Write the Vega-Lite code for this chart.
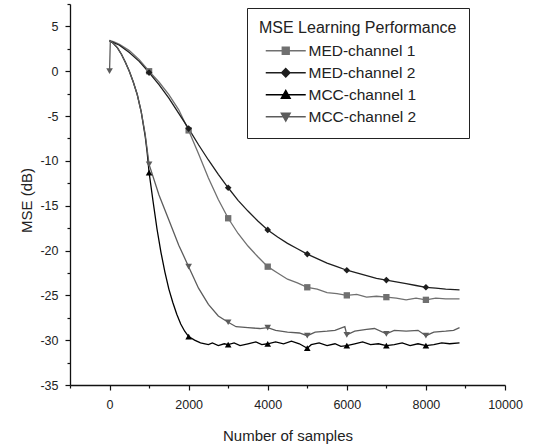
{
  "$schema": "https://vega.github.io/schema/vega-lite/v6.json",
  "width": 435,
  "height": 381,
  "autosize": {"type": "none"},
  "padding": {"left": 70, "top": 4, "right": 34, "bottom": 60},
  "background": "white",
  "config": {"view": {"stroke": null}, "font": "Liberation Sans"},
  "data": {"values": [
    {"s":"MED-channel 1","x":0,"y":3.4},{"s":"MED-channel 1","x":100,"y":3.3},{"s":"MED-channel 1","x":250,"y":3.0},{"s":"MED-channel 1","x":500,"y":2.3},{"s":"MED-channel 1","x":750,"y":1.3},{"s":"MED-channel 1","x":1000,"y":0.0},{"s":"MED-channel 1","x":1250,"y":-1.2},{"s":"MED-channel 1","x":1500,"y":-2.6},{"s":"MED-channel 1","x":1750,"y":-4.3},{"s":"MED-channel 1","x":2000,"y":-6.6},{"s":"MED-channel 1","x":2250,"y":-9.2},{"s":"MED-channel 1","x":2500,"y":-11.9},{"s":"MED-channel 1","x":2750,"y":-14.3},{"s":"MED-channel 1","x":3000,"y":-16.4},{"s":"MED-channel 1","x":3250,"y":-18.1},{"s":"MED-channel 1","x":3500,"y":-19.5},{"s":"MED-channel 1","x":3750,"y":-20.7},{"s":"MED-channel 1","x":4000,"y":-21.8},{"s":"MED-channel 1","x":4250,"y":-22.5},{"s":"MED-channel 1","x":4500,"y":-23.2},{"s":"MED-channel 1","x":4750,"y":-23.6},{"s":"MED-channel 1","x":5000,"y":-24.1},{"s":"MED-channel 1","x":5250,"y":-24.3},{"s":"MED-channel 1","x":5500,"y":-24.7},{"s":"MED-channel 1","x":5750,"y":-24.8},{"s":"MED-channel 1","x":6000,"y":-25.0},{"s":"MED-channel 1","x":6250,"y":-24.9},{"s":"MED-channel 1","x":6500,"y":-25.2},{"s":"MED-channel 1","x":6750,"y":-25.1},{"s":"MED-channel 1","x":7000,"y":-25.2},{"s":"MED-channel 1","x":7250,"y":-25.3},{"s":"MED-channel 1","x":7500,"y":-25.5},{"s":"MED-channel 1","x":7750,"y":-25.3},{"s":"MED-channel 1","x":8000,"y":-25.5},{"s":"MED-channel 1","x":8250,"y":-25.3},{"s":"MED-channel 1","x":8500,"y":-25.4},{"s":"MED-channel 1","x":8850,"y":-25.4},
    {"s":"MED-channel 2","x":0,"y":3.4},{"s":"MED-channel 2","x":250,"y":2.9},{"s":"MED-channel 2","x":500,"y":2.1},{"s":"MED-channel 2","x":750,"y":1.1},{"s":"MED-channel 2","x":1000,"y":-0.15},{"s":"MED-channel 2","x":1250,"y":-1.5},{"s":"MED-channel 2","x":1500,"y":-3.0},{"s":"MED-channel 2","x":1750,"y":-4.7},{"s":"MED-channel 2","x":2000,"y":-6.4},{"s":"MED-channel 2","x":2250,"y":-8.2},{"s":"MED-channel 2","x":2500,"y":-9.9},{"s":"MED-channel 2","x":2750,"y":-11.5},{"s":"MED-channel 2","x":3000,"y":-13.0},{"s":"MED-channel 2","x":3250,"y":-14.4},{"s":"MED-channel 2","x":3500,"y":-15.6},{"s":"MED-channel 2","x":3750,"y":-16.7},{"s":"MED-channel 2","x":4000,"y":-17.7},{"s":"MED-channel 2","x":4250,"y":-18.5},{"s":"MED-channel 2","x":4500,"y":-19.2},{"s":"MED-channel 2","x":4750,"y":-19.8},{"s":"MED-channel 2","x":5000,"y":-20.4},{"s":"MED-channel 2","x":5250,"y":-20.9},{"s":"MED-channel 2","x":5500,"y":-21.4},{"s":"MED-channel 2","x":5750,"y":-21.8},{"s":"MED-channel 2","x":6000,"y":-22.2},{"s":"MED-channel 2","x":6250,"y":-22.5},{"s":"MED-channel 2","x":6500,"y":-22.8},{"s":"MED-channel 2","x":6750,"y":-23.1},{"s":"MED-channel 2","x":7000,"y":-23.3},{"s":"MED-channel 2","x":7250,"y":-23.5},{"s":"MED-channel 2","x":7500,"y":-23.7},{"s":"MED-channel 2","x":7750,"y":-23.9},{"s":"MED-channel 2","x":8000,"y":-24.1},{"s":"MED-channel 2","x":8250,"y":-24.2},{"s":"MED-channel 2","x":8500,"y":-24.3},{"s":"MED-channel 2","x":8850,"y":-24.4},
    {"s":"MCC-channel 1","x":0,"y":3.4},{"s":"MCC-channel 1","x":100,"y":3.1},{"s":"MCC-channel 1","x":200,"y":2.6},{"s":"MCC-channel 1","x":300,"y":1.9},{"s":"MCC-channel 1","x":400,"y":1.0},{"s":"MCC-channel 1","x":500,"y":0.0},{"s":"MCC-channel 1","x":600,"y":-1.2},{"s":"MCC-channel 1","x":700,"y":-2.6},{"s":"MCC-channel 1","x":800,"y":-4.5},{"s":"MCC-channel 1","x":900,"y":-7.2},{"s":"MCC-channel 1","x":950,"y":-9.0},{"s":"MCC-channel 1","x":1000,"y":-11.3},{"s":"MCC-channel 1","x":1100,"y":-14.5},{"s":"MCC-channel 1","x":1200,"y":-17.6},{"s":"MCC-channel 1","x":1300,"y":-20.2},{"s":"MCC-channel 1","x":1400,"y":-22.4},{"s":"MCC-channel 1","x":1500,"y":-24.3},{"s":"MCC-channel 1","x":1600,"y":-25.8},{"s":"MCC-channel 1","x":1700,"y":-27.1},{"s":"MCC-channel 1","x":1800,"y":-28.2},{"s":"MCC-channel 1","x":1900,"y":-29.0},{"s":"MCC-channel 1","x":2000,"y":-29.6},{"s":"MCC-channel 1","x":2150,"y":-30.0},{"s":"MCC-channel 1","x":2300,"y":-30.3},{"s":"MCC-channel 1","x":2500,"y":-30.5},{"s":"MCC-channel 1","x":2600,"y":-30.3},{"s":"MCC-channel 1","x":2750,"y":-30.6},{"s":"MCC-channel 1","x":2900,"y":-30.4},{"s":"MCC-channel 1","x":3000,"y":-30.5},{"s":"MCC-channel 1","x":3150,"y":-30.3},{"s":"MCC-channel 1","x":3300,"y":-30.6},{"s":"MCC-channel 1","x":3500,"y":-30.4},{"s":"MCC-channel 1","x":3700,"y":-30.2},{"s":"MCC-channel 1","x":3850,"y":-30.5},{"s":"MCC-channel 1","x":4000,"y":-30.4},{"s":"MCC-channel 1","x":4200,"y":-30.2},{"s":"MCC-channel 1","x":4400,"y":-30.4},{"s":"MCC-channel 1","x":4600,"y":-30.1},{"s":"MCC-channel 1","x":4800,"y":-30.4},{"s":"MCC-channel 1","x":5000,"y":-30.9},{"s":"MCC-channel 1","x":5100,"y":-30.5},{"s":"MCC-channel 1","x":5300,"y":-30.3},{"s":"MCC-channel 1","x":5500,"y":-30.6},{"s":"MCC-channel 1","x":5700,"y":-30.4},{"s":"MCC-channel 1","x":5850,"y":-30.7},{"s":"MCC-channel 1","x":6000,"y":-30.6},{"s":"MCC-channel 1","x":6200,"y":-30.4},{"s":"MCC-channel 1","x":6400,"y":-30.2},{"s":"MCC-channel 1","x":6600,"y":-30.5},{"s":"MCC-channel 1","x":6800,"y":-30.4},{"s":"MCC-channel 1","x":7000,"y":-30.6},{"s":"MCC-channel 1","x":7200,"y":-30.5},{"s":"MCC-channel 1","x":7400,"y":-30.3},{"s":"MCC-channel 1","x":7600,"y":-30.6},{"s":"MCC-channel 1","x":7800,"y":-30.4},{"s":"MCC-channel 1","x":8000,"y":-30.6},{"s":"MCC-channel 1","x":8200,"y":-30.5},{"s":"MCC-channel 1","x":8400,"y":-30.3},{"s":"MCC-channel 1","x":8600,"y":-30.4},{"s":"MCC-channel 1","x":8850,"y":-30.3},
    {"s":"MCC-channel 2","x":0,"y":0.0},{"s":"MCC-channel 2","x":20,"y":3.4},{"s":"MCC-channel 2","x":100,"y":3.1},{"s":"MCC-channel 2","x":200,"y":2.6},{"s":"MCC-channel 2","x":300,"y":1.9},{"s":"MCC-channel 2","x":400,"y":1.0},{"s":"MCC-channel 2","x":500,"y":0.0},{"s":"MCC-channel 2","x":600,"y":-1.2},{"s":"MCC-channel 2","x":700,"y":-2.6},{"s":"MCC-channel 2","x":800,"y":-4.5},{"s":"MCC-channel 2","x":900,"y":-7.0},{"s":"MCC-channel 2","x":1000,"y":-10.4},{"s":"MCC-channel 2","x":1250,"y":-13.8},{"s":"MCC-channel 2","x":1500,"y":-16.6},{"s":"MCC-channel 2","x":1750,"y":-19.4},{"s":"MCC-channel 2","x":2000,"y":-21.8},{"s":"MCC-channel 2","x":2250,"y":-24.2},{"s":"MCC-channel 2","x":2500,"y":-26.0},{"s":"MCC-channel 2","x":2750,"y":-27.3},{"s":"MCC-channel 2","x":3000,"y":-28.0},{"s":"MCC-channel 2","x":3200,"y":-28.5},{"s":"MCC-channel 2","x":3500,"y":-28.6},{"s":"MCC-channel 2","x":3800,"y":-28.7},{"s":"MCC-channel 2","x":4000,"y":-28.6},{"s":"MCC-channel 2","x":4200,"y":-28.9},{"s":"MCC-channel 2","x":4500,"y":-29.1},{"s":"MCC-channel 2","x":4800,"y":-29.2},{"s":"MCC-channel 2","x":5000,"y":-29.5},{"s":"MCC-channel 2","x":5200,"y":-29.1},{"s":"MCC-channel 2","x":5500,"y":-29.0},{"s":"MCC-channel 2","x":5700,"y":-28.9},{"s":"MCC-channel 2","x":5950,"y":-28.5},{"s":"MCC-channel 2","x":6000,"y":-29.4},{"s":"MCC-channel 2","x":6200,"y":-29.0},{"s":"MCC-channel 2","x":6500,"y":-28.8},{"s":"MCC-channel 2","x":6700,"y":-28.7},{"s":"MCC-channel 2","x":7000,"y":-29.3},{"s":"MCC-channel 2","x":7200,"y":-28.9},{"s":"MCC-channel 2","x":7500,"y":-29.0},{"s":"MCC-channel 2","x":7800,"y":-28.9},{"s":"MCC-channel 2","x":8000,"y":-29.5},{"s":"MCC-channel 2","x":8200,"y":-29.1},{"s":"MCC-channel 2","x":8500,"y":-29.0},{"s":"MCC-channel 2","x":8700,"y":-28.9},{"s":"MCC-channel 2","x":8850,"y":-28.6}
  ]},
  "encoding": {
    "x": {"field": "x", "type": "quantitative",
      "scale": {"domain": [-1000, 10000], "nice": false, "zero": false},
      "axis": {"title": "Number of samples",
        "values": [-1000,0,1000,2000,3000,4000,5000,6000,7000,8000,9000,10000],
        "labelExpr": "datum.value % 2000 === 0 ? '' + datum.value : ''",
        "tickSize": {"condition": {"test": "datum.value % 2000 !== 0", "value": 3}, "value": 5},
        "grid": false, "labelFlush": false, "labelOverlap": false,
        "labelFontSize": 12.5, "labelPadding": 8, "labelColor": "#222",
        "titleFontSize": 15, "titleFontWeight": "normal", "titleColor": "#222", "titlePadding": 18,
        "domainColor": "#111", "domainWidth": 1.3, "tickColor": "#111", "tickWidth": 1.2}},
    "y": {"field": "y", "type": "quantitative",
      "scale": {"domain": [-35, 7.5], "nice": false, "zero": false},
      "axis": {"title": "MSE (dB)",
        "values": [-35,-32.5,-30,-27.5,-25,-22.5,-20,-17.5,-15,-12.5,-10,-7.5,-5,-2.5,0,2.5,5,7.5],
        "labelExpr": "datum.value % 5 === 0 ? '' + datum.value : ''",
        "tickSize": {"condition": {"test": "datum.value % 5 !== 0", "value": 3}, "value": 5},
        "grid": false, "labelFlush": false, "labelOverlap": false,
        "labelFontSize": 12.5, "labelPadding": 7, "labelColor": "#222",
        "titleFontSize": 15, "titleFontWeight": "normal", "titleColor": "#222", "titlePadding": 5, "titleY": 196,
        "domainColor": "#111", "domainWidth": 1.3, "tickColor": "#111", "tickWidth": 1.2}}
  },
  "layer": [
    {
      "mark": {"type": "line", "clip": true},
      "encoding": {
        "color": {"field": "s", "type": "nominal",
          "scale": {"domain": ["MCC-channel 1","MCC-channel 2","MED-channel 1","MED-channel 2"],
                    "range": ["#000000","#5c5c5c","#707070","#1e1e1e"]},
          "legend": null},
        "strokeWidth": {"field": "s", "type": "nominal",
          "scale": {"domain": ["MED-channel 1","MED-channel 2","MCC-channel 1","MCC-channel 2"], "range": [1.3, 1.3, 2.4, 2.4]}}
      }
    },
    {
      "transform": [{"filter": "datum.s === 'MED-channel 1' && datum.x % 1000 === 0 && datum.x > 0"}],
      "mark": {"type": "point", "filled": true, "opacity": 1, "size": 40, "shape": "square"},
      "encoding": {"color": {"field": "s", "type": "nominal", "legend": null}}
    },
    {
      "transform": [{"filter": "datum.s === 'MED-channel 2' && datum.x % 1000 === 0 && datum.x > 0"}],
      "mark": {"type": "point", "filled": true, "opacity": 1, "size": 44, "shape": "diamond"},
      "encoding": {"color": {"field": "s", "type": "nominal", "legend": null}}
    },
    {
      "transform": [{"filter": "datum.s === 'MCC-channel 1' && datum.x % 1000 === 0 && datum.x > 0"}],
      "mark": {"type": "point", "filled": true, "opacity": 1, "size": 44, "shape": "triangle-up"},
      "encoding": {"color": {"field": "s", "type": "nominal", "legend": null}}
    },
    {
      "transform": [{"filter": "datum.s === 'MCC-channel 2' && datum.x % 1000 === 0"}],
      "mark": {"type": "point", "filled": true, "opacity": 1, "size": 44, "shape": "triangle-down"},
      "encoding": {"color": {"field": "s", "type": "nominal", "legend": null}}
    },
    {
      "transform": [{"filter": "false"}],
      "mark": {"type": "point", "opacity": 1},
      "encoding": {
        "fill": {"field": "s", "type": "nominal",
          "scale": {"domain": ["MED-channel 1","MED-channel 2","MCC-channel 1","MCC-channel 2"],
                    "range": ["#707070","#1e1e1e","#000000","#5c5c5c"]},
          "legend": {
            "title": "MSE Learning Performance",
            "orient": "none", "legendX": 177, "legendY": 4,
            "direction": "vertical",
            "strokeColor": "#222", "fillColor": "white", "padding": 12,
            "titleFontSize": 16, "titleFontWeight": "normal", "titleColor": "#222", "titlePadding": 7, "titleLimit": 400,
            "labelFontSize": 15.5, "labelColor": "#222", "labelOffset": 15,
            "symbolSize": 100, "symbolOffset": 19, "symbolOpacity": 1, "rowPadding": 5, "labelLimit": 300
          }},
        "stroke": {"field": "s", "type": "nominal",
          "scale": {"domain": ["MED-channel 1","MED-channel 2","MCC-channel 1","MCC-channel 2"],
                    "range": ["#707070","#1e1e1e","#000000","#5c5c5c"]}},
        "shape": {"field": "s", "type": "nominal",
          "scale": {"domain": ["MED-channel 1","MED-channel 2","MCC-channel 1","MCC-channel 2"],
                    "range": ["M-4,0H4M-0.7,-0.7H0.7V0.7H-0.7Z", "M-4,0H4M0,-0.85L0.85,0L0,0.85L-0.85,0Z", "M-4,0H4M0,-0.9L0.9,0.7H-0.9Z", "M-4,0H4M0,0.9L0.9,-0.7H-0.9Z"]}},
        "strokeWidth": {"field": "s", "type": "nominal"}
      }
    }
  ]
}
